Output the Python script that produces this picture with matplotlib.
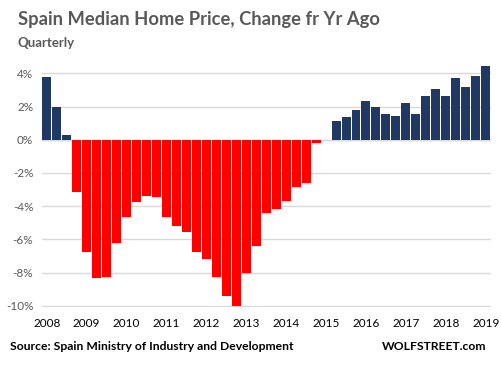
import numpy as np
import matplotlib
matplotlib.use("Agg")
import matplotlib.pyplot as plt

# quarterly % change, 2008Q1 .. 2019Q1
values = [3.8, 2.0, 0.3, -3.16,
          -6.76, -8.34, -8.28, -6.22,
          -4.66, -3.72, -3.4, -3.46,
          -4.66, -5.2, -5.56, -6.76,
          -7.2, -8.26, -9.4, -10.0,
          -8.02, -6.4, -4.42, -4.18,
          -3.7, -2.86, -2.62, -0.22,
          0.0, 1.14, 1.38, 1.8,
          2.34, 1.98, 1.56, 1.44,
          2.22, 1.56, 2.64, 3.06,
          2.64, 3.72, 3.18, 3.84,
          4.44]
years = list(range(2008, 2020))
yticks = [4, 2, 0, -2, -4, -6, -8, -10]

plt.rcParams['font.family'] = ['Lato', 'DejaVu Sans']

fig = plt.figure(figsize=(5.02, 3.73), dpi=100)
ax = fig.add_axes([41.7 / 502, 1 - 306.7 / 373, 449 / 502, (306.7 - 65) / 373])

x = np.arange(len(values))
colors = ['#203864' if v >= 0 else '#ff0000' for v in values]
ax.bar(x, values, width=0.9, color=colors, zorder=3)

ax.set_xlim(-0.5, len(values) - 0.5)
ax.set_ylim(-10.05, 4.5)
ax.set_yticks(yticks)
ax.set_yticklabels([f'{t}%' for t in yticks], color='#595959', fontsize=8.5)
ax.yaxis.grid(True, color='#d9d9d9', linewidth=1, zorder=0)
ax.tick_params(axis='both', length=0)
ax.tick_params(axis='y', pad=6)

ax.set_xticks(np.arange(0, len(values), 4))
ax.set_xticklabels([str(y) for y in years], color='black', fontsize=8.5)
ax.tick_params(axis='x', pad=8)

for s in ax.spines.values():
    s.set_visible(False)
ax.axhline(0, color='#d9d9d9', linewidth=1, zorder=2)

fig.text(18 / 502, 1 - 20 / 373, 'Spain Median Home Price, Change fr Yr Ago',
         fontsize=13.2, fontweight='bold', color='#595959', va='center')
fig.text(18 / 502, 1 - 43 / 373, 'Quarterly',
         fontsize=9.5, fontweight='bold', color='#595959', va='center')
fig.text(10 / 502, 1 - 347 / 373, 'Source: Spain Ministry of Industry and Development',
         fontsize=8.7, fontweight='bold', color='black', va='center')
fig.text(486 / 502, 1 - 347 / 373, 'WOLFSTREET.com',
         fontsize=8.7, fontweight='bold', color='black', va='center', ha='right')

fig.savefig('out.png', dpi=100)
